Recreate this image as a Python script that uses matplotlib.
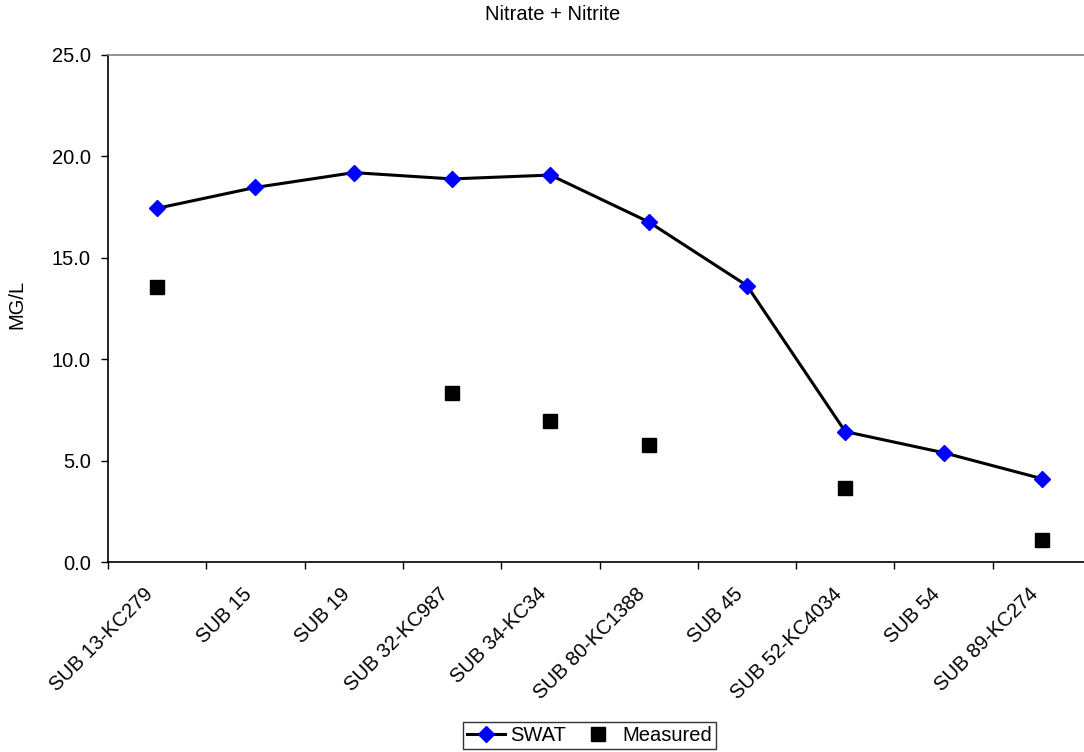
import matplotlib
matplotlib.use('Agg')
import matplotlib.pyplot as plt
import numpy as np

plt.rcParams['font.family'] = ['Liberation Sans', 'DejaVu Sans']

categories = ['SUB 13-KC279', 'SUB 15', 'SUB 19', 'SUB 32-KC987', 'SUB 34-KC34',
              'SUB 80-KC1388', 'SUB 45', 'SUB 52-KC4034', 'SUB 54', 'SUB 89-KC274']
swat = [17.44, 18.47, 19.20, 18.89, 19.08, 16.77, 13.63, 6.43, 5.39, 4.11]
measured = [13.58, np.nan, np.nan, 8.32, 6.95, 5.77, np.nan, 3.66, np.nan, 1.08]
yticks = [0, 5, 10, 15, 20, 25]

fs = 14.5

fig = plt.figure(figsize=(10.84, 7.52), dpi=100)
ax = fig.add_axes([108 / 1084, 190 / 752, 983 / 1084, 507 / 752])

x = np.arange(len(categories))
ax.plot(x, swat, color='black', lw=2.2, marker='D', markersize=8.5,
        markerfacecolor='#0000FF', markeredgecolor='#0000FF', label='SWAT', zorder=3)
ax.plot(x, measured, linestyle='none', marker='s', markersize=9.5,
        color='black', label='Measured', zorder=3)

ax.set_xlim(-0.5, len(categories) - 0.5)
ax.set_ylim(0, 25)
ax.set_yticks(yticks)
ax.set_yticklabels(['%.1f' % v for v in yticks], fontsize=fs)
ax.set_xticks(np.arange(-0.5, len(categories), 1.0))
ax.set_xticklabels([])
ax.set_xticks(x, minor=True)
ax.set_xticklabels(categories, minor=True, rotation=45, ha='right', fontsize=fs)
ax.tick_params(axis='x', which='minor', length=0, pad=16)
ax.tick_params(axis='both', which='major', length=5, width=1, direction='out')
ax.tick_params(axis='y', pad=7.5)

ax.spines['right'].set_visible(False)
ax.spines['top'].set_color('#808080')
ax.spines['top'].set_linewidth(1.2)
ax.spines['left'].set_linewidth(1.2)
ax.spines['bottom'].set_linewidth(1.2)

fig.text(17 / 1084, 1 - 304 / 752, 'MG/L', rotation=90, ha='center', va='center', fontsize=fs)
fig.text(553 / 1084, 1 - 14 / 752, 'Nitrate + Nitrite', ha='center', va='center', fontsize=fs)

fig.legend(loc='center', bbox_to_anchor=(589.5 / 1084, 1 - 735.5 / 752), ncol=2,
           fontsize=fs, frameon=True, fancybox=False, edgecolor='black',
           handlelength=1.9, columnspacing=0.65, borderpad=0.2, handletextpad=0.25,
           borderaxespad=0)

fig.savefig('out.png', dpi=100)
